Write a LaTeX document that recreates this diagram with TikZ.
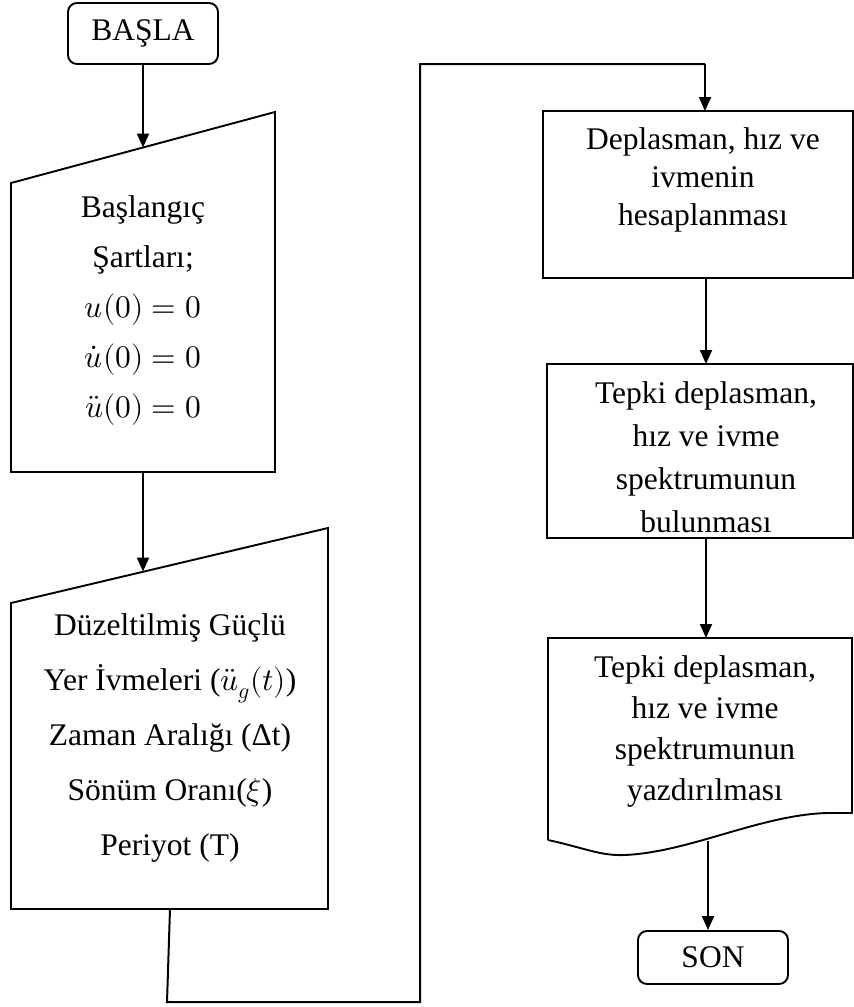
\documentclass[tikz,border=0pt]{standalone}
\usepackage{fontspec}
\usepackage{unicode-math}
\setmainfont{Liberation Serif}
\setmathfont{Latin Modern Math}
\usetikzlibrary{arrows.meta}
\begin{document}
\begin{tikzpicture}[x=1pt,y=-1pt,
  outline/.style={line width=1.9pt, line join=miter},
  txt/.style={align=center, inner sep=0pt},
  arr/.style={-{Triangle[length=14pt,width=12pt]}, line width=2pt},
  conn/.style={line width=2pt},
  term/.style={draw, line width=1.9pt, rounded corners=9pt, minimum width=150pt, inner sep=0pt, font=\fontsize{31.5}{36}\selectfont}]
\useasboundingbox (0,0) rectangle (854,1007);

% terminals
\node[term, minimum height=61pt] (start) at (143,33.5) {BAŞLA};
\node[term, minimum height=53pt] (son) at (713,957.5) {SON};

% manual input 1
\draw[outline] (11,183) -- (275,112) -- (275,472) -- (11,472) -- cycle;
\node[txt, font=\fontsize{31.5}{50}\selectfont] (in1) at (143,310)
  {Başlangıç\\Şartları;\\$u(0)=0$\\$\dot{u}(0)=0$\\$\ddot{u}(0)=0$};
\coordinate (in1top) at (143,147.5);
\coordinate (in1bot) at (143,472);

% manual input 2
\draw[outline] (11,603) -- (328,528) -- (328,909) -- (11,909) -- cycle;
\node[txt, font=\fontsize{31.5}{55}\selectfont] (in2) at (170,738)
  {Düzeltilmiş Güçlü\\Yer İvmeleri ($\ddot{u}_g(t)$)\\Zaman Aralığı (Δt)\\Sönüm Oranı($\xi$)\\Periyot (T)};
\coordinate (in2top) at (143,571.5);
\coordinate (in2bot) at (170,909);

% process boxes
\draw[outline] (543,111) rectangle (853,278);
\node[txt, font=\fontsize{31.5}{38}\selectfont] (calc) at (703,180)
  {Deplasman, hız ve\\ivmenin\\hesaplanması};
\coordinate (calcin) at (705,111);
\coordinate (calcout) at (706,278);

\draw[outline] (547,364) rectangle (853,538);
\node[txt, font=\fontsize{31.5}{43}\selectfont] (spec) at (706,457)
  {Tepki deplasman,\\hız ve ivme\\spektrumunun\\bulunması};
\coordinate (specin) at (706,364);
\coordinate (specout) at (706,538);

% document shape
\draw[outline] (548,840) -- (548,638) -- (852,638) -- (852,813) -- (827,813)
  .. controls (760,815) and (690,852) .. (625,855)
  .. controls (600,856) and (585,848) .. (548,840);
\node[txt, font=\fontsize{31.5}{41}\selectfont] (doc) at (705,731)
  {Tepki deplasman,\\hız ve ivme\\spektrumunun\\yazdırılması};
\coordinate (doctop) at (706,638);
\coordinate (docbot) at (708,841);

% loop connector coordinates
\coordinate (lbl) at (167,1002);
\coordinate (lbr) at (420,1002);
\coordinate (ltr) at (420,64);
\coordinate (ltl) at (705,64);

% connectors
\draw[arr] (start.south) -- (in1top);
\draw[arr] (in1bot) -- (in2top);
\draw[conn, line join=miter] (in2bot) -- (lbl) -- (lbr) -- (ltr) -- (ltl);
\draw[arr] (ltl) -- (calcin);
\draw[arr] (calcout) -- (specin);
\draw[arr] (specout) -- (doctop);
\draw[arr] (docbot) -- (son.north -| docbot);
\end{tikzpicture}
\end{document}
